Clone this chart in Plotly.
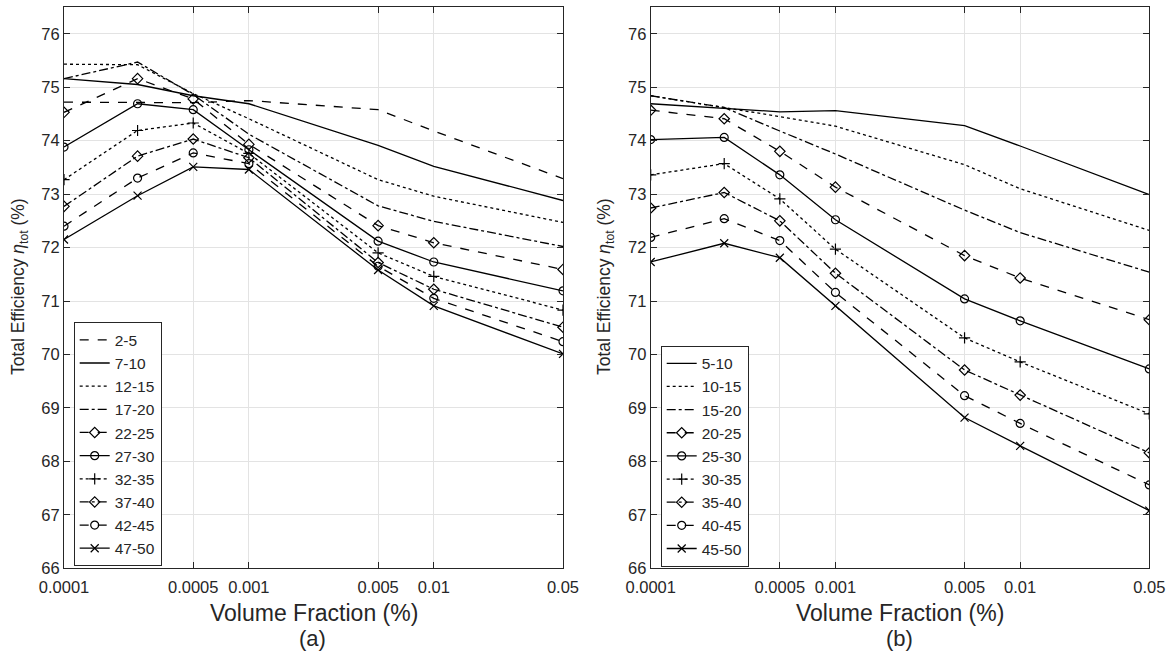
import plotly.graph_objects as go
import math

x_vals = [0.0001, 0.00025, 0.0005, 0.001, 0.005, 0.01, 0.05]
x_tick_vals = [0.0001, 0.0005, 0.001, 0.005, 0.01, 0.05]
x_tick_text = ["0.0001", "0.0005", "0.001", "0.005", "0.01", "0.05"]
y_tick_vals = [66, 67, 68, 69, 70, 71, 72, 73, 74, 75, 76]

# Panel (a)
names_a = ["2-5", "7-10", "12-15", "17-20", "22-25", "27-30", "32-35", "37-40", "42-45", "47-50"]
a_2_5 = [74.72, 74.72, 74.71, 74.75, 74.58, 74.18, 73.29]
a_7_10 = [75.16, 75.05, 74.84, 74.69, 73.91, 73.52, 72.88]
a_12_15 = [75.43, 75.42, 74.88, 74.41, 73.27, 72.96, 72.47]
a_17_20 = [75.16, 75.47, 74.86, 74.12, 72.78, 72.49, 72.02]
a_22_25 = [74.53, 75.16, 74.78, 73.93, 72.41, 72.09, 71.59]
a_27_30 = [73.88, 74.69, 74.58, 73.83, 72.12, 71.73, 71.19]
a_32_35 = [73.27, 74.19, 74.33, 73.76, 71.90, 71.46, 70.83]
a_37_40 = [72.77, 73.71, 74.03, 73.68, 71.72, 71.22, 70.51]
a_42_45 = [72.40, 73.30, 73.77, 73.57, 71.65, 71.05, 70.24]
a_47_50 = [72.15, 72.97, 73.51, 73.46, 71.58, 70.91, 70.01]

# Panel (b)
names_b = ["5-10", "10-15", "15-20", "20-25", "25-30", "30-35", "35-40", "40-45", "45-50"]
b_5_10 = [74.69, 74.61, 74.54, 74.56, 74.28, 73.90, 72.99]
b_10_15 = [74.84, 74.62, 74.45, 74.27, 73.55, 73.10, 72.32]
b_15_20 = [74.84, 74.62, 74.18, 73.75, 72.70, 72.28, 71.54]
b_20_25 = [74.57, 74.41, 73.80, 73.13, 71.85, 71.43, 70.65]
b_25_30 = [74.02, 74.06, 73.36, 72.52, 71.04, 70.63, 69.73]
b_30_35 = [73.36, 73.57, 72.91, 71.97, 70.31, 69.86, 68.89]
b_35_40 = [72.74, 73.03, 72.50, 71.52, 69.71, 69.24, 68.16]
b_40_45 = [72.19, 72.54, 72.13, 71.16, 69.23, 68.71, 67.56]
b_45_50 = [71.73, 72.08, 71.81, 70.91, 68.82, 68.29, 67.08]

series_a = [a_2_5, a_7_10, a_12_15, a_17_20, a_22_25, a_27_30, a_32_35, a_37_40, a_42_45, a_47_50]
series_b = [b_5_10, b_10_15, b_15_20, b_20_25, b_25_30, b_30_35, b_35_40, b_40_45, b_45_50]

styles_a = [("dash", None), ("solid", None), ("dot", None), ("dashdot", None),
            ("dash", "diamond-open"), ("solid", "circle-open"), ("dot", "cross-thin-open"),
            ("dashdot", "diamond-open"), ("dash", "circle-open"), ("solid", "x-thin-open")]
styles_b = styles_a[1:]

FONT = "Liberation Sans, Arial, sans-serif"
TXT = "#262626"

fig = go.Figure()

def add(names, series, styles, xa, ya, legend):
    for nm, ys, (dash, sym) in zip(names, series, styles):
        mode = "lines+markers" if sym else "lines"
        marker = dict(symbol=sym, size=8, color="black", line=dict(color="black", width=1.2)) if sym else None
        fig.add_trace(go.Scatter(
            x=x_vals, y=ys, name=nm, mode=mode, xaxis=xa, yaxis=ya, legend=legend,
            line=dict(color="black", width=1.3, dash=dash), marker=marker,
        ))

add(names_a, series_a, styles_a, "x", "y", "legend")
add(names_b, series_b, styles_b, "x2", "y2", "legend2")

axis_font = dict(family=FONT, size=16.5, color=TXT)

def xaxis(domain, anchor):
    return dict(
        domain=domain, anchor=anchor, type="log", automargin=False,
        range=[math.log10(0.0001), math.log10(0.05)],
        tickvals=x_tick_vals, ticktext=x_tick_text, tickfont=axis_font,
        ticks="inside", ticklen=6, tickcolor=TXT, mirror="ticks", ticklabelstandoff=4,
        showline=True, linecolor=TXT, linewidth=1,
        showgrid=True, gridcolor="#e3e3e3", gridwidth=1, zeroline=False,
    )

def yaxis(domain, anchor):
    return dict(
        domain=domain, anchor=anchor, range=[66, 76.5], automargin=False,
        tickvals=y_tick_vals, tickfont=axis_font,
        ticks="inside", ticklen=6, tickcolor=TXT, mirror="ticks",
        showline=True, linecolor=TXT, linewidth=1,
        showgrid=True, gridcolor="#e3e3e3", gridwidth=1, zeroline=False,
    )

ydom = [1 - 568.3 / 666, 1 - 7 / 666]
leg_common = dict(
    xanchor="left", yanchor="top", bgcolor="white", bordercolor=TXT, borderwidth=1,
    font=dict(family=FONT, size=15.5, color=TXT),
    tracegroupgap=0, itemwidth=30,
)

def ann(text, x, y, size, angle=0):
    return dict(text=text, x=x / 1172, y=1 - y / 666, xref="paper", yref="paper",
                showarrow=False, textangle=angle, xanchor="center", yanchor="middle",
                font=dict(family=FONT, size=size, color=TXT))

ytitle = "Total Efficiency <i>η</i><sub>tot</sub> (%)"

fig.update_layout(
    width=1172, height=666, autosize=False,
    margin=dict(l=0, r=0, t=0, b=0),
    paper_bgcolor="white", plot_bgcolor="white",
    xaxis=xaxis([64 / 1172, 563 / 1172], "y"),
    yaxis=yaxis(ydom, "x"),
    xaxis2=xaxis([650.7 / 1172, 1149.3 / 1172], "y2"),
    yaxis2=yaxis(ydom, "x2"),
    legend=dict(x=73.7 / 1172, y=1 - 322.3 / 666, **leg_common),
    legend2=dict(x=660.7 / 1172, y=1 - 345.7 / 666, **leg_common),
    showlegend=True,
    annotations=[
        ann("Volume Fraction (%)", 313.5, 613, 23),
        ann("Volume Fraction (%)", 900, 613, 23),
        ann("(a)", 312.5, 638, 22),
        ann("(b)", 899, 638, 22),
        ann(ytitle, 19, 287, 17.5, -90),
        ann(ytitle, 605, 287, 17.5, -90),
    ],
)

fig.write_html("out.html", config={"displayModeBar": False},
               post_script="document.body.style.margin='0px';document.body.style.padding='0px';")
